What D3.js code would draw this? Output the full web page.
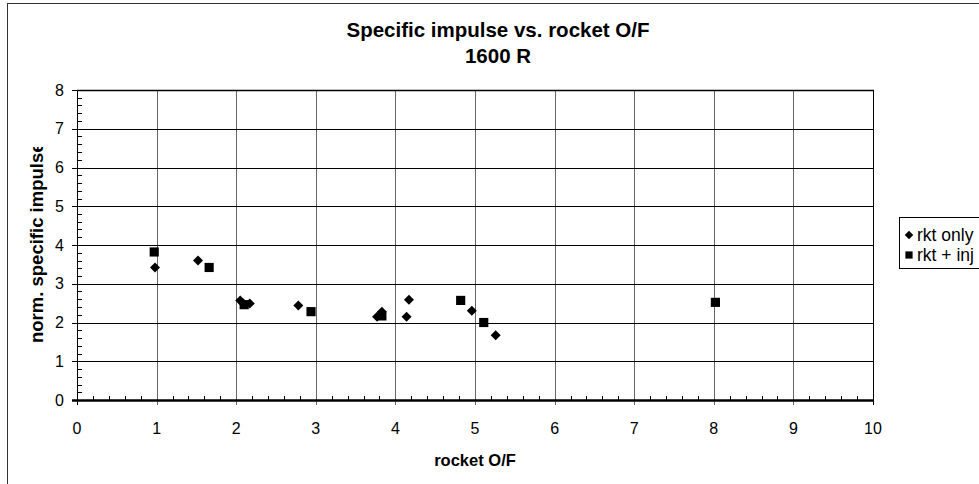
<!DOCTYPE html>
<html><head><meta charset="utf-8">
<script src="https://cdn.jsdelivr.net/npm/d3@7"></script>
<style>body{margin:0;background:#fff;} svg{display:block;font-family:Arial,"Liberation Sans",Helvetica,sans-serif;}</style>
</head><body>
<svg id="c" width="979" height="484"></svg>
<script>
const titleLines = ["Specific impulse vs. rocket O/F", "1600 R"];
const xLabel = "rocket O/F";
const yLabel = "norm. specific impulse";
const xTicks = [0,1,2,3,4,5,6,7,8,9,10];
const yTicks = [0,1,2,3,4,5,6,7,8];
const seriesNames = ["rkt only", "rkt + inj"];
const rktOnlyX = [0.98, 1.52, 2.05, 2.09, 2.17, 2.78, 3.77, 3.83, 4.14, 4.17, 4.96, 5.26];
const rktOnlyY = [3.42, 3.60, 2.57, 2.49, 2.49, 2.44, 2.15, 2.28, 2.15, 2.59, 2.30, 1.67];
const rktInjX = [0.97, 1.66, 2.10, 2.94, 3.83, 4.82, 5.11, 8.02];
const rktInjY = [3.82, 3.42, 2.46, 2.28, 2.17, 2.57, 2.00, 2.52];

const svg = d3.select("#c");
const L = 77, R = 873, T = 90, B = 400;
const x = d3.scaleLinear().domain([0,10]).range([L,R]);
const y = d3.scaleLinear().domain([0,8]).range([B,T]);

// outer chart border
svg.append("rect").attr("x",7.5).attr("y",3.5).attr("width",1100).attr("height",600)
  .attr("fill","#fff").attr("stroke","#333").attr("stroke-width",1);

// title
svg.append("text").attr("x",498).attr("y",37).attr("text-anchor","middle")
  .attr("font-weight","bold").attr("font-size",20.5).text(titleLines[0]);
svg.append("text").attr("x",498).attr("y",63).attr("text-anchor","middle")
  .attr("font-weight","bold").attr("font-size",20.5).text(titleLines[1]);

// gridlines
const g = svg.append("g");
g.selectAll(".vg").data(xTicks).join("line")
  .attr("x1",d=>Math.round(x(d))+0.5).attr("x2",d=>Math.round(x(d))+0.5)
  .attr("y1",T).attr("y2",B+5).attr("stroke",d=>d===10?"#000":"#666").attr("stroke-width",1);
g.selectAll(".hg").data(yTicks).join("line")
  .attr("x1",L-5).attr("x2",R).attr("y1",d=>Math.round(y(d))+0.5).attr("y2",d=>Math.round(y(d))+0.5)
  .attr("stroke","#000").attr("stroke-width",1);

// minor ticks
const xMinor = d3.range(0,10.001,0.2).filter(v=>Math.abs(v-Math.round(v))>1e-6);
g.selectAll(".xm").data(xMinor).join("line")
  .attr("x1",d=>Math.round(x(d))+0.5).attr("x2",d=>Math.round(x(d))+0.5)
  .attr("y1",B-4).attr("y2",B).attr("stroke","#000");
const yMinor = d3.range(0,8.001,0.2).filter(v=>Math.abs(v-Math.round(v))>1e-6);
g.selectAll(".ym").data(yMinor).join("line")
  .attr("x1",L).attr("x2",L+5).attr("y1",d=>Math.round(y(d))+0.5).attr("y2",d=>Math.round(y(d))+0.5)
  .attr("stroke","#000");

// axis lines
svg.append("line").attr("x1",L+0.5).attr("x2",L+0.5).attr("y1",T).attr("y2",B+5).attr("stroke","#000");
svg.append("line").attr("x1",L-5).attr("x2",R+1).attr("y1",B+0.5).attr("y2",B+0.5).attr("stroke","#000").attr("stroke-width",2.5);
svg.append("line").attr("x1",L).attr("x2",R+1).attr("y1",T+0.5).attr("y2",T+0.5).attr("stroke","#000").attr("stroke-width",1.5);

// tick labels
svg.selectAll(".xl").data(xTicks).join("text").attr("x",d=>x(d)).attr("y",434)
  .attr("text-anchor","middle").attr("font-size",16).text(d=>d);
svg.selectAll(".yl").data(yTicks).join("text").attr("x",64).attr("y",d=>y(d)+5.5)
  .attr("text-anchor","end").attr("font-size",16).text(d=>d);

// axis titles
svg.append("text").attr("x",(L+R)/2).attr("y",466).attr("text-anchor","middle")
  .attr("font-weight","bold").attr("font-size",16.5).text(xLabel);
svg.append("clipPath").attr("id","yclip").append("rect").attr("x",0).attr("y",147).attr("width",70).attr("height",300);
svg.append("g").attr("clip-path","url(#yclip)").append("text")
  .attr("transform","translate(43,343) rotate(-90)").attr("text-anchor","start")
  .attr("font-weight","bold").attr("font-size",18.5).text(yLabel);

// points
svg.append("g").selectAll("path").data(rktOnlyX.map((v,i)=>[v,rktOnlyY[i]])).join("path")
  .attr("d",d3.symbol().type(d3.symbolSquare).size(50)).attr("fill","#000")
  .attr("transform",d=>`translate(${x(d[0])},${y(d[1])}) rotate(45)`);
svg.append("g").selectAll("path").data(rktInjX.map((v,i)=>[v,rktInjY[i]])).join("path")
  .attr("d",d3.symbol().type(d3.symbolSquare).size(84)).attr("fill","#000")
  .attr("transform",d=>`translate(${x(d[0])},${y(d[1])})`);

// legend
const lg = svg.append("g");
lg.append("rect").attr("x",899.5).attr("y",217.5).attr("width",120).attr("height",51)
  .attr("fill","#fff").attr("stroke","#000");
lg.append("path").attr("d",d3.symbol().type(d3.symbolSquare).size(36)())
  .attr("transform","translate(909,235) rotate(45)").attr("fill","#000");
lg.append("path").attr("d",d3.symbol().type(d3.symbolSquare).size(52)())
  .attr("transform","translate(909,255)").attr("fill","#000");
lg.append("text").attr("x",917).attr("y",241).attr("font-size",17.5).text(seriesNames[0]);
lg.append("text").attr("x",917).attr("y",261).attr("font-size",17.5).text(seriesNames[1]);
</script>
</body></html>
